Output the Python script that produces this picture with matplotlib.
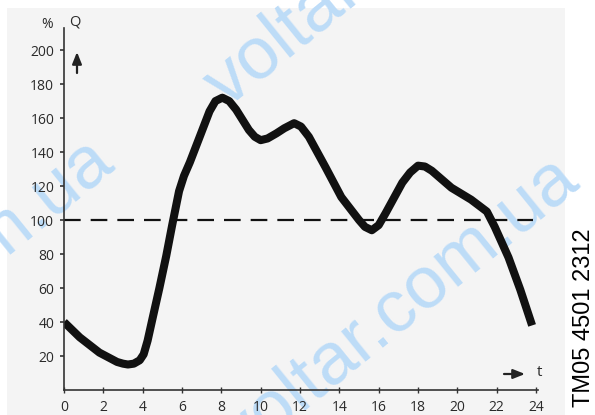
import matplotlib
matplotlib.use('Agg')
import matplotlib.pyplot as plt
from matplotlib.patches import Rectangle

# ============================================================
# Data
# ============================================================
t_hours = [0, 0.8, 1.8, 2.7, 3.0, 3.25, 3.55, 3.85, 4.05, 4.25, 4.5, 4.85,
           5.2, 5.5, 5.85, 6.1, 6.4, 6.9, 7.4, 7.7, 8.05, 8.4, 8.75, 9.4,
           9.7, 10.0, 10.35, 10.8, 11.2, 11.7, 12.05, 12.45, 13.3, 14.1, 15.0,
           15.3, 15.65, 16.0, 16.35, 17.2, 17.6, 18.0, 18.35, 18.7, 19.7, 20.7,
           21.5, 21.9, 22.6, 23.2, 23.8]
q_percent = [40, 31, 22, 16.5, 15.5, 15, 15.5, 17.5, 21, 29, 42, 60,
             79, 97, 117, 126, 134, 149, 164, 170, 172, 170, 165, 153,
             149, 147, 148, 151, 154, 157, 155, 149, 131, 113.5, 100,
             96, 94, 97, 104, 122, 128, 132, 131.5, 129, 119, 112,
             105, 96, 78, 59, 38]

ref_t = [0, 23.85]
ref_q = [100, 100]

x_ticks = [0, 2, 4, 6, 8, 10, 12, 14, 16, 18, 20, 22, 24]
y_ticks = [20, 40, 60, 80, 100, 120, 140, 160, 180, 200]

W, H = 595, 415
plt.rcParams['font.family'] = ['Open Sans', 'DejaVu Sans']

fig = plt.figure(figsize=(W / 100, H / 100), dpi=100)
fig.patch.set_facecolor('white')

# scanned page background
fig.add_artist(Rectangle((7 / W, 0), (565 - 7) / W, (H - 8) / H,
                         transform=fig.transFigure, facecolor='#f4f4f4',
                         edgecolor='none', zorder=0))

# watermark
wm_color = '#bddcf8'
for cx, cy in [(-65, 290), (385, -45), (400, 308)]:
    fig.text(cx / W, 1 - cy / H, 'voltar.com.ua', fontsize=53,
             family='Liberation Sans', color=wm_color, rotation=39,
             ha='center', va='center', rotation_mode='anchor', zorder=1)

ax = fig.add_axes([64 / W, 25 / H, 474 / W, 362 / H])
ax.set_facecolor('none')
ax.set_zorder(2)

ax.plot(ref_t, ref_q, color='#111111', linewidth=1.6, dashes=(7.5, 4.5))
ax.plot(t_hours, q_percent, color='#111111', linewidth=5.8,
        solid_joinstyle='round', solid_capstyle='butt')

ax.set_xlim(0, 24.1)
ax.set_ylim(0, 213)
ax.set_xticks(x_ticks)
ax.set_yticks(y_ticks)

for side in ['top', 'right']:
    ax.spines[side].set_visible(False)
for side in ['left', 'bottom']:
    ax.spines[side].set_color('#333333')
    ax.spines[side].set_linewidth(1.2)

ax.tick_params(axis='y', direction='out', length=3, width=1.2, color='#333333',
               labelsize=10, labelcolor='#2a2a2a', pad=4)
ax.tick_params(axis='x', direction='inout', length=5, width=1.0, color='#333333',
               labelsize=10, labelcolor='#2a2a2a', pad=5)

# axis captions and arrows
fig.text(47 / W, 1 - 24 / H, '%', fontsize=10, color='#2a2a2a', ha='center', va='center')
fig.text(75 / W, 1 - 22 / H, 'Q', fontsize=10.5, color='#2a2a2a', ha='center', va='center')
fig.text(540 / W, 1 - 372 / H, 't', fontsize=11, color='#2a2a2a', ha='center', va='center')

arrow = dict(arrowstyle='-|>,head_length=0.7,head_width=0.28',
             color='#222222', lw=1.6, shrinkA=0, shrinkB=0)
ax.annotate('', xy=(77, H - 52), xytext=(77, H - 73),
            xycoords='figure pixels', textcoords='figure pixels', arrowprops=arrow)
ax.annotate('', xy=(525, H - 374), xytext=(504, H - 374),
            xycoords='figure pixels', textcoords='figure pixels', arrowprops=arrow)

fig.text(584 / W, 1 - 318 / H, 'TM05 4501 2312', fontsize=17,
         family='Liberation Sans', color='black', rotation=90,
         ha='center', va='center')

fig.savefig('out.png', dpi=100, facecolor=fig.get_facecolor())
